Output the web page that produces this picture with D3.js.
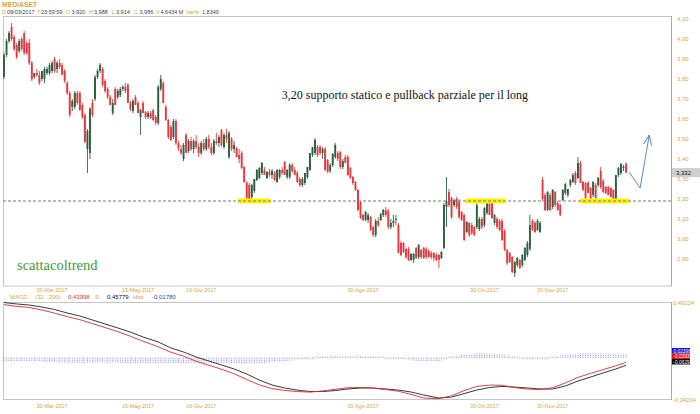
<!DOCTYPE html>
<html><head><meta charset="utf-8">
<script src="https://cdn.jsdelivr.net/npm/d3@7"></script>
<style>body{margin:0;background:#fff;}svg{display:block;font-family:"Liberation Sans",Arial,sans-serif;}</style>
</head><body>
<svg id="c" width="700" height="414"></svg>
<script>
// ---------- DATA ----------
// daily candles [open, high, low, close]
const ohlc = [
[3.81,3.93,3.80,3.92],[3.92,4.00,3.91,3.99],[3.99,4.04,3.98,4.03],[4.06,4.08,3.99,4.00],[4.01,4.02,3.94,3.95],
[3.97,3.98,3.90,3.91],[3.94,4.00,3.93,3.99],[4.00,4.01,3.94,3.95],[4.03,4.04,3.92,3.93],[3.98,3.99,3.92,3.93],
[3.98,4.00,3.87,3.88],[3.88,3.89,3.79,3.80],[3.81,3.83,3.80,3.83],[3.83,3.85,3.81,3.82],[3.82,3.84,3.77,3.78],
[3.80,3.84,3.79,3.84],[3.80,3.86,3.78,3.85],[3.83,3.86,3.82,3.85],[3.83,3.88,3.82,3.87],[3.84,3.89,3.83,3.88],
[3.90,3.91,3.83,3.84],[3.85,3.89,3.83,3.88],[3.88,3.90,3.85,3.86],[3.87,3.88,3.82,3.82],[3.84,3.85,3.78,3.79],
[3.78,3.79,3.72,3.73],[3.73,3.74,3.61,3.62],[3.66,3.70,3.64,3.69],[3.66,3.74,3.65,3.73],[3.73,3.74,3.67,3.68],
[3.73,3.74,3.64,3.645],[3.67,3.68,3.60,3.61],[3.62,3.63,3.48,3.485],[3.45,3.55,3.33,3.54],[3.43,3.66,3.40,3.65],
[3.68,3.70,3.61,3.62],[3.70,3.82,3.69,3.81],[3.81,3.85,3.80,3.84],[3.84,3.88,3.83,3.87],[3.85,3.86,3.76,3.77],
[3.79,3.80,3.73,3.74],[3.75,3.76,3.70,3.71],[3.71,3.72,3.67,3.67],[3.63,3.70,3.62,3.68],[3.75,3.76,3.67,3.67],
[3.71,3.75,3.70,3.74],[3.72,3.76,3.71,3.75],[3.75,3.77,3.74,3.76],[3.76,3.78,3.73,3.74],[3.77,3.78,3.68,3.68],
[3.68,3.69,3.64,3.65],[3.64,3.70,3.63,3.69],[3.71,3.72,3.67,3.67],[3.68,3.69,3.63,3.63],[3.61,3.65,3.52,3.645],
[3.68,3.69,3.63,3.63],[3.635,3.64,3.60,3.61],[3.61,3.64,3.60,3.63],[3.63,3.64,3.60,3.605],[3.645,3.65,3.59,3.595],
[3.61,3.62,3.57,3.58],[3.58,3.77,3.57,3.76],[3.75,3.82,3.74,3.80],[3.78,3.79,3.68,3.68],[3.66,3.67,3.59,3.595],
[3.595,3.60,3.50,3.51],[3.56,3.57,3.49,3.495],[3.51,3.60,3.50,3.59],[3.59,3.60,3.47,3.48],[3.48,3.49,3.44,3.455],
[3.45,3.47,3.42,3.43],[3.40,3.48,3.39,3.47],[3.52,3.53,3.43,3.43],
[3.44,3.50,3.43,3.49],[3.49,3.51,3.44,3.45],[3.45,3.50,3.43,3.49],[3.49,3.52,3.45,3.46],[3.46,3.48,3.41,3.43],
[3.43,3.49,3.42,3.48],[3.48,3.50,3.44,3.45],[3.45,3.51,3.44,3.50],[3.50,3.52,3.45,3.46],[3.46,3.48,3.42,3.43],
[3.43,3.50,3.42,3.49],[3.49,3.53,3.47,3.48],[3.48,3.52,3.46,3.51],
[3.545,3.55,3.46,3.47],[3.46,3.53,3.45,3.52],[3.52,3.55,3.48,3.50],[3.41,3.54,3.40,3.53],[3.50,3.51,3.44,3.45],
[3.45,3.49,3.43,3.47],[3.455,3.46,3.41,3.41],[3.42,3.45,3.38,3.40],[3.43,3.44,3.35,3.355],[3.36,3.365,3.28,3.285],
[3.28,3.29,3.20,3.205],[3.27,3.28,3.19,3.195],[3.21,3.275,3.20,3.27],[3.24,3.30,3.23,3.30],[3.295,3.35,3.29,3.345],
[3.305,3.36,3.30,3.355],[3.33,3.385,3.32,3.38],[3.345,3.36,3.32,3.32],[3.305,3.34,3.30,3.335],[3.335,3.35,3.31,3.32],
[3.32,3.35,3.30,3.34],[3.33,3.34,3.29,3.295],[3.285,3.35,3.28,3.345],[3.31,3.35,3.30,3.345],[3.345,3.36,3.32,3.33],
[3.385,3.39,3.32,3.32],[3.31,3.35,3.30,3.345],[3.31,3.38,3.30,3.37],[3.37,3.38,3.33,3.34],[3.345,3.36,3.32,3.32],
[3.33,3.34,3.28,3.285],[3.30,3.31,3.26,3.27],[3.27,3.31,3.26,3.30],[3.28,3.33,3.27,3.33],[3.31,3.36,3.30,3.36],
[3.345,3.43,3.34,3.43],[3.42,3.46,3.41,3.46],[3.43,3.505,3.42,3.495],[3.46,3.47,3.41,3.42],[3.46,3.47,3.42,3.43],
[3.43,3.46,3.40,3.45],[3.45,3.46,3.34,3.345],[3.395,3.40,3.33,3.335],[3.34,3.38,3.33,3.37],[3.37,3.43,3.36,3.425],
[3.41,3.48,3.40,3.47],[3.43,3.44,3.39,3.40],[3.435,3.44,3.35,3.36],[3.36,3.40,3.35,3.39],[3.41,3.42,3.38,3.38],
[3.41,3.42,3.315,3.32],[3.355,3.36,3.30,3.305],[3.31,3.315,3.27,3.28],[3.285,3.29,3.24,3.245],[3.245,3.25,3.14,3.145],
[3.185,3.19,3.10,3.105],[3.12,3.125,3.09,3.095],[3.095,3.14,3.09,3.135],[3.095,3.13,3.08,3.12],[3.11,3.115,3.04,3.045],
[3.06,3.065,3.01,3.02],[3.02,3.10,3.01,3.09],[3.09,3.11,3.06,3.07],[3.095,3.13,3.09,3.125],[3.12,3.15,3.11,3.145],
[3.145,3.16,3.11,3.12],[3.14,3.15,3.05,3.06],[3.06,3.10,3.05,3.08],[3.08,3.12,3.06,3.09],[3.095,3.12,3.07,3.10],
[3.07,3.08,2.93,2.93],[2.98,2.99,2.915,2.92],[2.98,2.985,2.93,2.935],[2.95,2.955,2.90,2.91],[2.95,2.96,2.89,2.895],
[2.895,2.93,2.89,2.925],[2.895,2.93,2.88,2.925],[2.955,2.96,2.90,2.905],[2.91,2.975,2.90,2.97],[2.945,2.95,2.90,2.91],
[2.955,2.96,2.90,2.905],[2.95,2.96,2.90,2.91],[2.94,2.95,2.905,2.91],[2.93,2.94,2.90,2.91],[2.93,2.935,2.89,2.905],
[2.92,2.93,2.89,2.895],[2.92,2.925,2.855,2.895],[2.905,2.94,2.90,2.935],
[2.955,3.18,2.95,3.17],[3.16,3.31,3.06,3.19],
[3.235,3.25,3.16,3.17],[3.205,3.21,3.10,3.11],[3.17,3.20,3.16,3.195],[3.20,3.21,3.15,3.16],[3.185,3.20,3.10,3.11],
[3.135,3.14,3.09,3.095],[3.12,3.125,2.99,2.995],[3.035,3.09,3.03,3.085],[3.08,3.085,3.01,3.02],[3.07,3.08,3.02,3.03],
[3.06,3.065,3.015,3.02],[3.06,3.18,3.05,3.17],[3.05,3.11,3.04,3.10],[3.10,3.11,3.05,3.06],[3.07,3.16,3.06,3.155],
[3.13,3.19,3.12,3.18],[3.185,3.20,3.12,3.12],[3.18,3.19,3.10,3.105],[3.08,3.125,3.07,3.12],[3.10,3.11,3.05,3.06],
[3.09,3.10,3.04,3.045],[3.09,3.10,2.99,2.995],[3.04,3.05,2.94,2.945],[2.945,2.95,2.87,2.88],[2.93,2.935,2.88,2.885],
[2.91,2.915,2.83,2.835],[2.83,2.89,2.81,2.885],[2.87,2.91,2.86,2.905],[2.895,2.90,2.85,2.855],[2.87,2.925,2.86,2.92],
[2.895,2.96,2.89,2.955],[2.92,2.99,2.91,2.98],[2.95,3.12,2.94,3.07],[3.09,3.10,3.04,3.045],[3.08,3.09,3.03,3.035],
[3.045,3.10,3.04,3.09],[3.035,3.09,3.03,3.08],[3.295,3.31,3.19,3.20],[3.22,3.23,3.14,3.145],[3.145,3.24,3.14,3.235],
[3.22,3.23,3.14,3.145],[3.16,3.25,3.15,3.245],[3.235,3.24,3.16,3.17],[3.18,3.19,3.14,3.145],[3.17,3.175,3.115,3.12],
[3.195,3.25,3.19,3.245],[3.23,3.28,3.22,3.275],[3.22,3.25,3.21,3.25],[3.27,3.30,3.26,3.295],[3.285,3.33,3.28,3.32],
[3.33,3.34,3.27,3.28],[3.305,3.41,3.30,3.38],[3.38,3.39,3.28,3.28],[3.285,3.29,3.24,3.245],[3.28,3.285,3.20,3.205],
[3.28,3.29,3.23,3.23],[3.255,3.26,3.18,3.185],[3.22,3.29,3.21,3.285],[3.27,3.28,3.20,3.205],[3.27,3.31,3.26,3.305],
[3.34,3.36,3.25,3.26],[3.29,3.30,3.23,3.235],[3.26,3.265,3.225,3.23],[3.26,3.265,3.22,3.22],[3.255,3.26,3.21,3.21],
[3.245,3.25,3.18,3.185],[3.195,3.32,3.19,3.32],[3.32,3.36,3.31,3.355],[3.33,3.38,3.32,3.375],[3.355,3.37,3.34,3.36],
[3.375,3.385,3.33,3.332]
];
const priceTicks = [4.10,4.00,3.90,3.80,3.70,3.60,3.50,3.40,3.30,3.20,3.10,3.00,2.90];
const tickIdx = [19, 53, 78, 142, 190, 217];
const tickLabels = ["30-Mar-2017","15-Mag-2017","16-Giu-2017","30-Ago-2017","30-Ott-2017","30-Nov-2017"];
const supportLevel = 3.19;
const supportZones = [[93,105],[183,198],[228,247]];
// forecast arrow: [candle index, price]
const arrowPts = [[247.2,3.335],[251.6,3.255],[255.2,3.52]];
// MACD(32,200), sampled about every 5 sessions
const macdIdx = [0,5,10,15,20,25,30,35,40,45,50,55,61,66,71,76,81,86,91,96,101,106,111,116,121,126,131,136,141,146,151,156,161,166,172,177,182,187,192,197,202,207,212,217,222,227,232,237,242,246];
const signalLine = [0.458,0.446,0.437,0.421,0.400,0.371,0.346,0.313,0.280,0.247,0.213,0.172,0.131,0.081,0.048,0.006,-0.027,-0.060,-0.093,-0.135,-0.185,-0.226,-0.251,-0.268,-0.280,-0.280,-0.272,-0.259,-0.251,-0.251,-0.259,-0.268,-0.284,-0.309,-0.334,-0.326,-0.297,-0.268,-0.247,-0.238,-0.243,-0.251,-0.259,-0.259,-0.234,-0.193,-0.160,-0.126,-0.093,-0.063];
const macdLine = [0.440,0.426,0.417,0.396,0.370,0.341,0.316,0.283,0.250,0.217,0.178,0.137,0.091,0.046,0.013,-0.029,-0.062,-0.095,-0.133,-0.180,-0.225,-0.256,-0.271,-0.280,-0.285,-0.275,-0.262,-0.249,-0.246,-0.251,-0.264,-0.278,-0.304,-0.334,-0.339,-0.316,-0.272,-0.238,-0.227,-0.228,-0.248,-0.259,-0.264,-0.249,-0.209,-0.163,-0.130,-0.098,-0.067,-0.039];
// histogram per session, thousandths
const histMilli = [
-18,-19,-18,-20,-19,-20,-21,-20,-22,-21, -22,-23,-22,-24,-25,-24,-26,-27,-26,-28,
-30,-29,-31,-30,-32,-31,-30,-32,-31,-33, -34,-32,-33,-31,-30,-32,-31,-30,-29,-31,
-30,-32,-31,-30,-29,-31,-32,-33,-34,-35, -36,-35,-34,-36,-37,-35,-34,-36,-38,-39,
-40,-38,-37,-36,-35,-34,-36,-35,-34,-35, -36,-35,-34,-33,-35,-36,-35,-34,-35,-36,
-35,-34,-33,-35,-36,-37,-36,-35,-37,-38, -40,-41,-42,-43,-44,-45,-44,-43,-42,-41,
-40,-38,-36,-34,-32,-30,-28,-26,-24,-22, -20,-18,-17,-15,-13,-12,-10,-9,-7,-6,
-5,-3,-2,0,2,4,5,6,7,8, 10,10,11,10,9,10,9,8,9,10,
10,9,8,7,6,5,4,3,2,1, 0,-1,-2,-3,-4,-5,-6,-7,-8,-9,
-10,-12,-14,-16,-18,-20,-21,-22,-24,-25, -25,-22,-18,-14,-8,-2,2,5,8,10,
12,15,18,20,23,25,27,28,29,30, 30,28,26,24,22,20,18,16,13,11,
10,7,4,1,-2,-5,-6,-7,-8,-8, -8,-7,-6,-5,-5,-4,0,4,7,9,
12,15,18,21,24,25,27,28,29,30, 30,31,30,29,30,29,28,29,28,27,
27,26,25,24,24,23,24
];
const macdScale = [-0.34204, 0.46224];
const lastValues = {hist:"0,02398", macd:"-0,03936", signal:"-0,06294"};

// ---------- DRAW ----------
const svg = d3.select("#c");
const gold = "#d9a53a", red = "#e23a3f", green = "#2f5f41";
const N = ohlc.length;
const x = d3.scaleLinear().domain([0, N-1]).range([4, 626]);
const y = d3.scaleLinear().domain([2.90, 4.10]).range([259, 19]);
const ym = d3.scaleLinear().domain(macdScale).range([399, 302]);
const fmt = (v,d) => v.toFixed(d).replace(".", ",");

// header
svg.append("text").attr("x",2).attr("y",7).attr("font-size",6.8).attr("font-weight","bold").attr("fill",gold).text("MEDIASET");
const hdr = [["D",2,gold],["09/03/2017",7,"#444"],["T",37,gold],["23:59:59",41,"#444"],["O",66,gold],["3,920",71.5,"#444"],
["H",89,gold],["3,988",94,"#444"],["L",112,gold],["3,914",116,"#444"],["C",134,gold],["3,986",139.5,"#444"],
["V",156,gold],["4,6434 M",160.5,"#444"],["Var%",186,gold],["1,8349",202,"#444"]];
svg.append("g").selectAll("text").data(hdr).join("text").attr("x",d=>d[1]).attr("y",14).attr("font-size",5.5).attr("fill",d=>d[2]).text(d=>d[0]);

// upper panel frame
svg.append("rect").attr("x",3.5).attr("y",16.5).attr("width",668).attr("height",269.5).attr("fill","none").attr("stroke","#c4c4c4");
svg.append("line").attr("x1",671.5).attr("x2",671.5).attr("y1",16).attr("y2",286).attr("stroke","#a8a8a8");

// price axis labels
svg.append("g").selectAll("text").data(priceTicks).join("text")
  .attr("x",677).attr("y",d=>y(d)+2.2).attr("font-size",6).attr("fill",gold).text(d=>fmt(d,2));

// candles
const cg = svg.append("g");
const col = d => d[3] > d[0] ? green : (d[3] < d[0] ? red : "#999");
cg.selectAll("line").data(ohlc).join("line")
  .attr("x1",(d,i)=>x(i)).attr("x2",(d,i)=>x(i)).attr("y1",d=>y(d[1])).attr("y2",d=>y(d[2]))
  .attr("stroke",col).attr("stroke-width",0.9);
cg.selectAll("rect").data(ohlc).join("rect")
  .attr("x",(d,i)=>x(i)-0.95).attr("width",1.9)
  .attr("y",d=>y(Math.max(d[0],d[3]))).attr("height",d=>Math.max(0.8, Math.abs(y(d[0])-y(d[3]))))
  .attr("fill",col);

// support zones and line
svg.append("g").selectAll("rect").data(supportZones).join("rect")
  .attr("x",d=>x(d[0])-1).attr("width",d=>x(d[1])-x(d[0])+2)
  .attr("y",y(supportLevel)-2.5).attr("height",5).attr("fill","#fff200");
svg.append("line").attr("x1",3).attr("x2",671).attr("y1",y(supportLevel)).attr("y2",y(supportLevel))
  .attr("stroke","#777").attr("stroke-dasharray","3,2");

// last price box
const last = ohlc[N-1][3];
svg.append("rect").attr("x",672).attr("y",y(last)-4.5).attr("width",28).attr("height",9).attr("fill","#cfcfcf");
svg.append("text").attr("x",676).attr("y",y(last)+2.2).attr("font-size",6).attr("fill","#111").text(fmt(last,3));

// arrow
svg.append("defs").append("marker").attr("id","ah").attr("viewBox","0 0 10 10").attr("refX",10).attr("refY",5)
  .attr("markerWidth",10).attr("markerHeight",10).attr("markerUnits","userSpaceOnUse").attr("orient","auto")
  .append("path").attr("d","M0,1 L10,5 L0,9").attr("fill","none").attr("stroke","#4c7bbd").attr("stroke-width",0.9);
svg.append("path").attr("d",d3.line().x(d=>x(d[0])).y(d=>y(d[1]))(arrowPts))
  .attr("fill","none").attr("stroke","#4c7bbd").attr("stroke-width",0.9).attr("marker-end","url(#ah)");

// annotations
svg.append("text").attr("x",405).attr("y",99).attr("text-anchor","middle").attr("font-family","'Liberation Serif','Times New Roman',serif")
  .attr("font-size",12).attr("fill","#111").text("3,20 supporto statico e pullback parziale per il long");
svg.append("text").attr("x",17).attr("y",270).attr("font-family","'Liberation Serif','Times New Roman',serif")
  .attr("font-size",14.5).attr("fill","#3f9a3a").text("scattacoltrend");

// x labels
[292, 408].forEach(yy => {
  svg.append("g").selectAll("text").data(tickIdx).join("text")
    .attr("x",d=>x(d)).attr("y",yy).attr("text-anchor","middle").attr("font-size",5.4).attr("fill",gold)
    .text((d,i)=>tickLabels[i]);
});

// MACD header
const mh = [["MACD",10,gold],["(32 , 200)",35,gold],["0,43998",68,"#d03a3a"],["S",95,gold],["0,45779",107,"#111"],["Hist",133,gold],["-0,01780",152,"#3b3bb0"]];
svg.append("g").selectAll("text").data(mh).join("text").attr("x",d=>d[1]).attr("y",299).attr("font-size",6).attr("fill",d=>d[2]).text(d=>d[0]);

// MACD frame
svg.append("rect").attr("x",3.5).attr("y",302.5).attr("width",668).attr("height",97).attr("fill","none").attr("stroke","#c4c4c4");
svg.append("line").attr("x1",671.5).attr("x2",671.5).attr("y1",302).attr("y2",400).attr("stroke","#a8a8a8");
svg.append("text").attr("x",673).attr("y",305).attr("font-size",5.8).attr("fill",gold).text(fmt(macdScale[1],5));
svg.append("text").attr("x",673).attr("y",402).attr("font-size",5.8).attr("fill",gold).text(fmt(macdScale[0],5));

// histogram
svg.append("g").selectAll("line").data(histMilli).join("line")
  .attr("x1",(d,i)=>x(i)).attr("x2",(d,i)=>x(i)).attr("y1",ym(0)).attr("y2",d=>ym(d/1000) + (d>=0?-1:1))
  .attr("stroke","#4a4ab8").attr("stroke-width",0.7).attr("stroke-dasharray","1,1");

// lines
const ln = arr => d3.line().x((d,k)=>x(macdIdx[k])).y(d=>ym(d))(arr);
svg.append("path").attr("d",ln(signalLine)).attr("fill","none").attr("stroke","#222").attr("stroke-width",0.9);
svg.append("path").attr("d",ln(macdLine)).attr("fill","none").attr("stroke","#cc3030").attr("stroke-width",0.9);

// value boxes
const boxes = [[lastValues.hist,"#1010e0",348],[lastValues.macd,"#e81010",353.5],[lastValues.signal,"#000",359]];
boxes.forEach(b=>{
  svg.append("rect").attr("x",672).attr("y",b[2]).attr("width",18).attr("height",5.5).attr("fill",b[1]);
  svg.append("text").attr("x",673.5).attr("y",b[2]+4.5).attr("font-size",4.8).attr("fill","#fff").text(b[0]);
});
</script>
</body></html>
